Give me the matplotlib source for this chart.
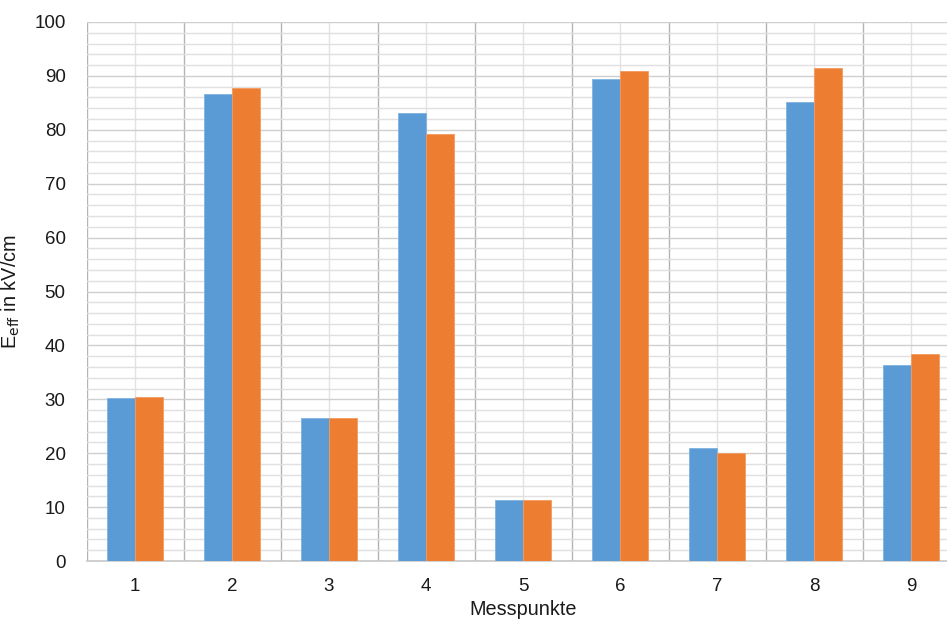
import matplotlib
matplotlib.use("Agg")
import matplotlib.pyplot as plt
from matplotlib.ticker import MultipleLocator, FixedLocator
import numpy as np

plt.rcParams['font.family'] = ['Liberation Sans', 'DejaVu Sans']

categories = ["1", "2", "3", "4", "5", "6", "7", "8", "9"]
series_a = [30.2, 86.6, 26.6, 83.1, 11.4, 89.5, 21.0, 85.1, 36.4]
series_b = [30.4, 87.7, 26.5, 79.2, 11.4, 90.9, 20.0, 91.5, 38.4]

blue = "#5B9BD5"
orange = "#ED7D31"
text_col = "#1a1a1a"

fig = plt.figure(figsize=(9.47, 6.24), dpi=100)
ax = fig.add_axes([86.5/947, 63/624, 873/947, 539/624])

x = np.arange(len(categories))
w = 0.29
ax.bar(x - w/2, series_a, width=w, color=blue, edgecolor="#7fb3e0", linewidth=0.6, zorder=3)
ax.bar(x + w/2, series_b, width=w, color=orange, edgecolor="#f29a60", linewidth=0.6, zorder=3)

ax.set_xlim(-0.5, len(categories) - 0.5)
ax.set_ylim(0, 100)

ax.yaxis.set_major_locator(MultipleLocator(10))
ax.yaxis.set_minor_locator(MultipleLocator(2))
ax.set_xticks(x)
ax.set_xticklabels(categories)
ax.xaxis.set_minor_locator(FixedLocator(np.arange(-0.5, len(categories), 1.0)))

ax.grid(which="major", axis="y", color="#cfcfcf", linewidth=1.0, zorder=0)
ax.grid(which="minor", axis="y", color="#e0e0e0", linewidth=1.0, zorder=0)
ax.grid(which="major", axis="x", color="#e2e2e2", linewidth=1.0, zorder=0)
ax.grid(which="minor", axis="x", color="#b4b4b4", linewidth=1.0, zorder=0)

for s in ["top", "right", "left"]:
    ax.spines[s].set_visible(False)
ax.spines["bottom"].set_color("#c8c8c8")
ax.spines["bottom"].set_linewidth(1.2)

ax.tick_params(axis="both", which="both", length=0, labelsize=13.5, colors=text_col)
ax.tick_params(axis="x", pad=12)
ax.tick_params(axis="y", pad=15)

ax.set_xlabel("Messpunkte", fontsize=14.3, color=text_col, labelpad=4)
ax.set_ylabel(r"E$_{\mathrm{eff}}$ in kV/cm", fontsize=14.3, color=text_col)
ax.yaxis.set_label_coords((22 - 86.5) / 873, 0.5)

fig.savefig("out.png", dpi=100)
